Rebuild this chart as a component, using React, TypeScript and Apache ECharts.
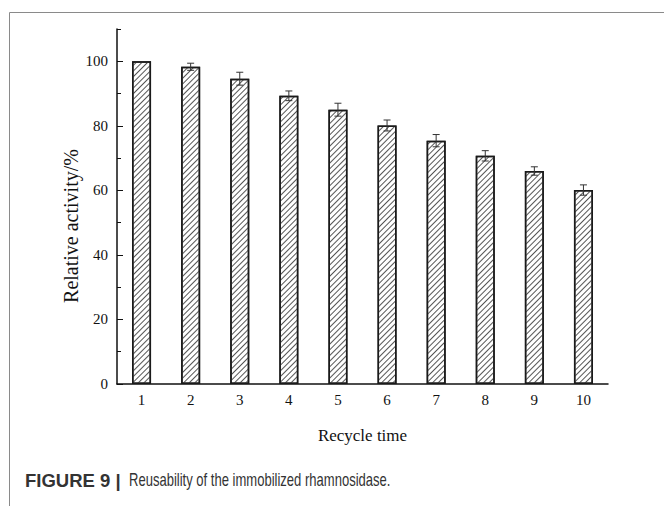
import React, { useEffect, useRef } from "react";
import * as echarts from "echarts";

const categories = ["1", "2", "3", "4", "5", "6", "7", "8", "9", "10"];
const activity = [100, 98.3, 94.6, 89.3, 85.0, 80.1, 75.4, 70.7, 66.0, 60.1];
const errors = [0, 1.1, 2.0, 1.5, 2.0, 1.7, 1.9, 1.6, 1.3, 1.6];
const majorTicks = [0, 20, 40, 60, 80, 100];
const minorTicks = [10, 30, 50, 70, 90, 110];

export default function App() {
  const ref = useRef<HTMLDivElement>(null);
  useEffect(() => {
    if (!ref.current) return;
    const chart = echarts.init(ref.current, null, { renderer: "svg" });
    const serif = "'Liberation Serif', 'DejaVu Serif', serif";
    const sans = "'Liberation Sans', Arial, sans-serif";
    const errData = activity.map((v, i) => [i, v - errors[i], v + errors[i]]);
    chart.setOption({
      animation: false,
      backgroundColor: "#fff",
      grid: { left: 117, right: 56, top: 29, bottom: 122, containLabel: false },
      xAxis: {
        type: "category",
        data: categories,
        boundaryGap: true,
        name: "Recycle time",
        nameLocation: "middle",
        nameGap: 43,
        nameTextStyle: { fontFamily: serif, fontSize: 17, color: "#111" },
        axisLine: { lineStyle: { color: "#111", width: 1.5 } },
        axisTick: { alignWithLabel: true, inside: true, length: 5, lineStyle: { color: "#111", width: 1 } },
        axisLabel: { fontFamily: serif, fontSize: 15, color: "#111", margin: 8 },
        splitLine: { show: false },
      },
      yAxis: [
        {
          type: "value",
          min: 0,
          max: 110,
          position: "left",
          axisLine: { show: true, lineStyle: { color: "#111", width: 1.5 } },
          axisTick: { show: true, inside: true, length: 6, customValues: majorTicks, lineStyle: { color: "#111", width: 1 } },
          axisLabel: { fontFamily: serif, fontSize: 15, color: "#111", margin: 9, customValues: majorTicks },
          splitLine: { show: false },
        },
        {
          type: "value",
          min: 0,
          max: 110,
          position: "left",
          offset: 0,
          axisLine: { show: false },
          axisTick: { show: true, inside: true, length: 4, customValues: minorTicks, lineStyle: { color: "#111", width: 1 } },
          axisLabel: { show: false },
          splitLine: { show: false },
        },
      ],
      series: [
        {
          type: "bar",
          data: activity,
          barWidth: 19,
          yAxisIndex: 0,
          itemStyle: {
            color: "#fff",
            borderColor: "#1a1a1a",
            borderWidth: 1.5,
            decal: {
              symbol: "rect",
              symbolSize: 1,
              color: "#555",
              backgroundColor: "#fff",
              dashArrayX: [1, 0],
              dashArrayY: [1, 2.6],
              rotation: -Math.PI / 4,
            },
          },
        },
        {
          type: "custom",
          yAxisIndex: 0,
          data: errData,
          encode: { x: 0, y: [1, 2] },
          z: 10,
          renderItem: (params: any, api: any) => {
            const idx = api.value(0);
            const lo = api.coord([idx, api.value(1)]);
            const hi = api.coord([idx, api.value(2)]);
            if (Math.abs(lo[1] - hi[1]) < 0.5) return { type: "group", children: [] };
            const hw = 3.5;
            const style = { stroke: "#333", lineWidth: 1 };
            return {
              type: "group",
              children: [
                { type: "line", shape: { x1: hi[0], y1: hi[1], x2: lo[0], y2: lo[1] }, style },
                { type: "line", shape: { x1: hi[0] - hw, y1: hi[1], x2: hi[0] + hw, y2: hi[1] }, style },
                { type: "line", shape: { x1: lo[0] - hw, y1: lo[1], x2: lo[0] + hw, y2: lo[1] }, style },
              ],
            };
          },
        },
      ],
      graphic: [
        {
          type: "polyline",
          shape: { points: [[9.5, 506], [9.5, 12.5], [664, 12.5]] },
          style: { stroke: "#8a8a8a", lineWidth: 1, fill: null },
          silent: true,
        },
        {
          type: "text",
          x: 71,
          y: 226,
          rotation: Math.PI / 2,
          style: {
            text: "Relative activity/%",
            fontFamily: serif,
            fontSize: 20,
            fill: "#111",
            align: "center",
            verticalAlign: "middle",
          },
        },
        {
          type: "text",
          x: 25,
          y: 480,
          style: {
            text: "FIGURE 9 |",
            fontFamily: sans,
            fontWeight: "bold",
            fontSize: 18.5,
            fill: "#333",
            verticalAlign: "middle",
          },
        },
        {
          type: "text",
          x: 129,
          y: 480,
          scaleX: 0.745,
          style: {
            text: "Reusability of the immobilized rhamnosidase.",
            fontFamily: sans,
            fontSize: 17.5,
            fill: "#333",
            verticalAlign: "middle",
          },
        },
      ],
    });
    return () => chart.dispose();
  }, []);
  return <div ref={ref} style={{ position: "fixed", left: 0, top: 0, width: 664, height: 506 }} />;
}
